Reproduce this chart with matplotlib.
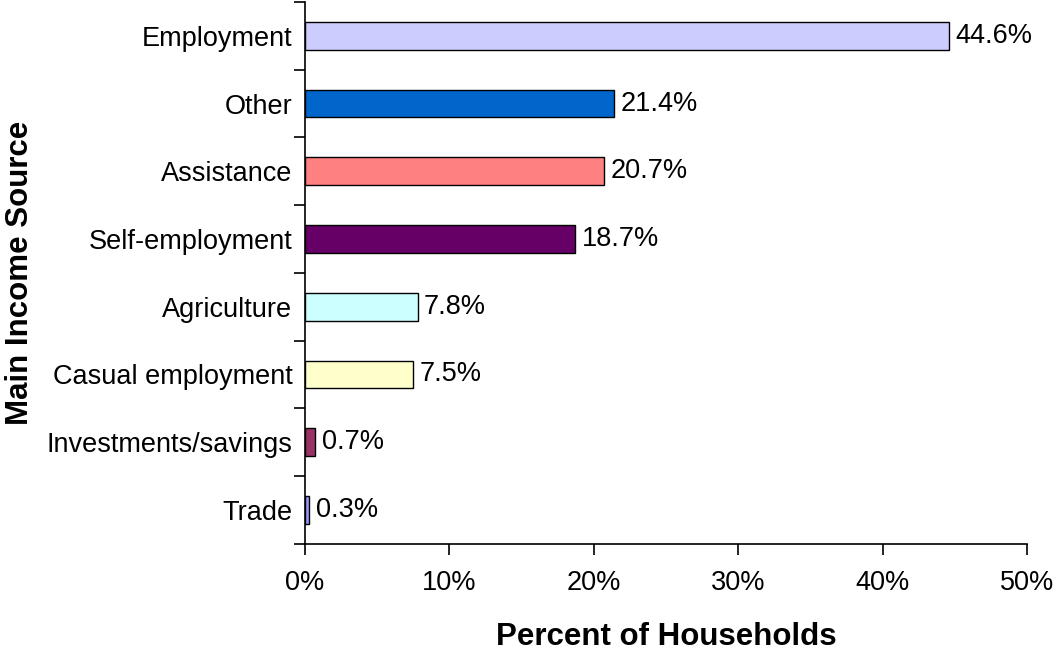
import matplotlib
matplotlib.use("Agg")
import matplotlib.pyplot as plt
from matplotlib.ticker import FuncFormatter

plt.rcParams['font.family'] = ['Liberation Sans', 'DejaVu Sans']

categories = ["Employment", "Other", "Assistance", "Self-employment",
              "Agriculture", "Casual employment", "Investments/savings", "Trade"]
values = [44.6, 21.4, 20.7, 18.7, 7.8, 7.5, 0.7, 0.3]
colors = ["#CCCCFF", "#0066CC", "#FF8080", "#660066",
          "#CCFFFF", "#FFFFCC", "#993366", "#9999FF"]
x_ticks = [0, 10, 20, 30, 40, 50]

fig = plt.figure(figsize=(10.55, 6.52), dpi=100)
ax = fig.add_axes([0.289, 0.166, 0.6845, 0.831])

pos = list(range(len(categories)))
ax.barh(pos, values, height=0.41, color=colors, edgecolor="black", linewidth=1)
for p, v in zip(pos, values):
    ax.text(v + 0.45, p, f"{v:.1f}%", va="center", ha="left", fontsize=19.5)

ax.set_ylim(len(categories) - 0.5, -0.5)
ax.set_xlim(0, 50)
ax.set_xticks(x_ticks)
ax.xaxis.set_major_formatter(FuncFormatter(lambda x, _: f"{x:.0f}%"))
ax.set_yticks([p - 0.5 for p in pos] + [len(categories) - 0.5])
ax.set_yticklabels([])
ax.set_yticks(pos, minor=True)
ax.set_yticklabels(categories, minor=True, fontsize=19.5)
ax.tick_params(axis="y", which="minor", length=0, pad=9)
ax.tick_params(axis="y", which="major", length=8, width=1.2, direction="out")
ax.tick_params(axis="x", length=8, width=1.2, direction="out", pad=11, labelsize=19.5)

for s in ["top", "right"]:
    ax.spines[s].set_visible(False)
for s in ["left", "bottom"]:
    ax.spines[s].set_linewidth(1.2)

ax.set_xlabel("Percent of Households", fontsize=22.5, fontweight="bold")
ax.xaxis.set_label_coords(0.5, -0.145)
ax.set_ylabel("Main Income Source", fontsize=22.5, fontweight="bold")
ax.yaxis.set_label_coords(-0.374, 0.5)

fig.savefig("out.png", dpi=100)
